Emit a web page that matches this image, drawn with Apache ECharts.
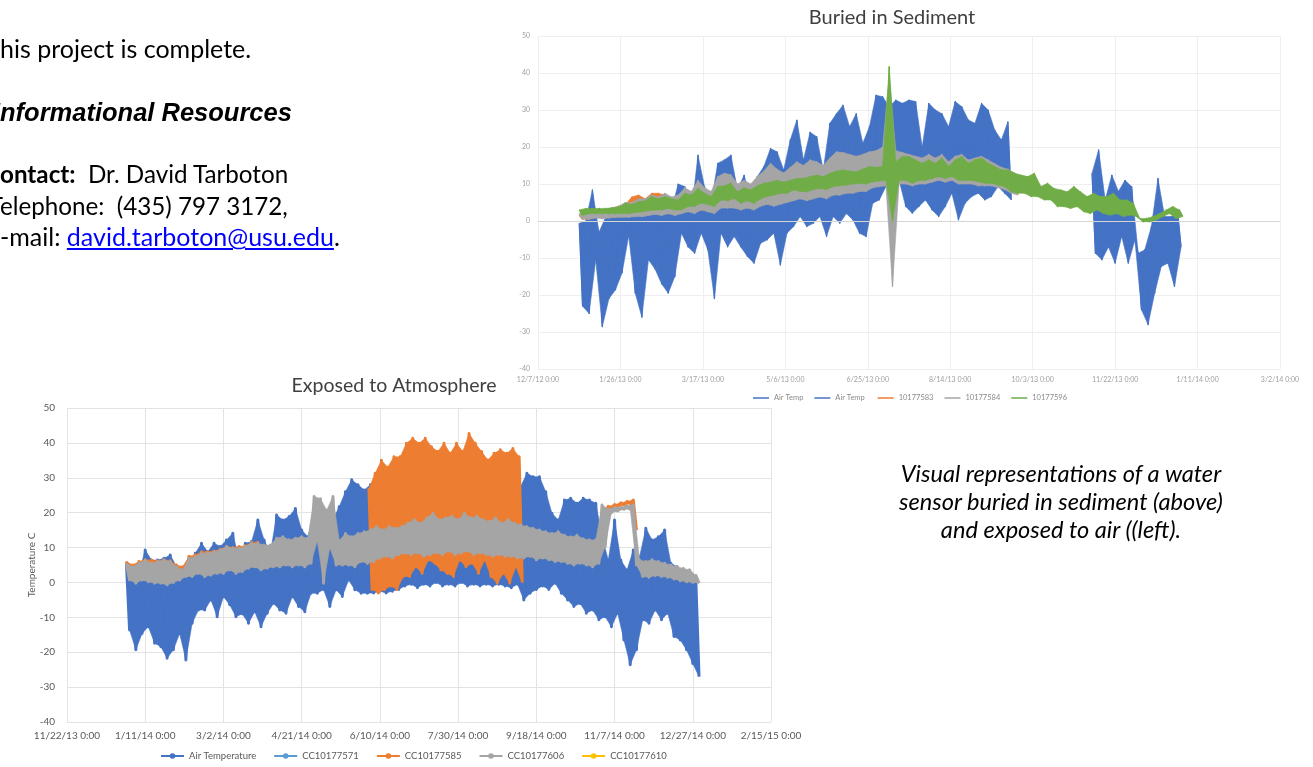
<!DOCTYPE html>
<html>
<head>
<meta charset="utf-8">
<script src="https://cdn.jsdelivr.net/npm/echarts@6/dist/echarts.min.js"></script>
<style>
  html, body { margin: 0; padding: 0; background: #fff; }
  #page { position: relative; width: 1313px; height: 767px; overflow: hidden; background: #fff; }
  #chart { position: absolute; left: 0; top: 0; width: 1313px; height: 767px; }
  .t { position: absolute; white-space: nowrap; font-family: 'Lato', sans-serif; font-size: 25px; line-height: 25px; color: #000; z-index: 2; }
  .t.s { font-size: 24.2px; line-height: 24.2px; }
  .h { font-family: 'Liberation Sans', Arial, sans-serif; font-weight: bold; font-style: italic; font-size: 25.5px; line-height: 25.5px; }
  .t a { color: #0000ff; text-decoration: underline; }
  .cap { position: absolute; left: 861px; top: 459px; width: 400px; text-align: center; font-family: 'Lato', sans-serif; font-style: italic; font-size: 23.6px; line-height: 28px; color: #000; z-index: 2; }
</style>
</head>
<body>
<div id="page">
  <div id="chart"></div>
  <div class="t" style="top:36px"><span class="cut">T</span>his project is complete.</div>
  <div class="t h" style="top:100px"><span class="cut">I</span>nformational Resources</div>
  <div class="t s" style="top:161.5px"><b><span class="cut">C</span>ontact:</b>&nbsp; Dr. David Tarboton</div>
  <div class="t s" style="top:193.5px"><span class="cut">T</span>elephone:&nbsp; (435) 797 3172,</div>
  <div class="t" style="top:224px"><span class="cut">E</span>-mail: <a>david.tarboton@usu.edu</a>.</div>
  <div class="cap">Visual representations of a water<br>sensor buried in sediment (above)<br>and exposed to air ((left).</div>
</div>
<script>
// days between two samples pairs (high at d, low at d + STEP/2)
const STEP = 4;

// ---- Buried in Sediment (days since 12/7/12) ----
const sedTicks = ['12/7/12 0:00', '1/26/13 0:00', '3/17/13 0:00', '5/6/13 0:00', '6/25/13 0:00',
    '8/14/13 0:00', '10/3/13 0:00', '11/22/13 0:00', '1/11/14 0:00', '3/2/14 0:00'];

const sedAir1Start = 25;
const sedAir1Hi = [-0.6, 0, 8.4, -3, 1, 2, 2.5, 1, 4, 4.8, 1, 4, 5, 4, 3, 10, 9.3, 2, 17.8, 9.3,
    4.8, 15.6, 16.5, 17.8, 8.4, 12.4, 5.7, 12, 14.7, 19.6, 18.7, 13.8, 21.9, 27.3, 16.5, 24, 22.8, 13.8, 26.4, 29,
    31.3, 25.5, 29, 21, 25.5, 34, 33.6, 30.9, 32.7, 31.8, 32.7, 32.3, 20, 31.8, 30, 29, 25.5, 32.3, 30.9, 27.3,
    26.4, 31.8, 30, 24.6, 21.9, 26.8];
const sedAir1Lo = [-23, -25, -10.5, -28.6, -21, -18.6, -14, -4, -19.5, -26, -10.5, -13, -17, -19.5, -15, -3.3, -7, -8.7, -3.3, -7.8,
    -21, -3.3, -7, -4.2, -7, -9.6, -11.4, -6, -5.1, -3.3, -11.9, -3.3, -1.5, 1.2, -1.5, -0.6, 1.2, -4.2, 1.2, -0.6,
    2, 0.3, -3.3, -4.2, 4.8, 5.7, 9.3, 7.5, 11, 3.9, 2.1, 3.9, 5.7, 3, 1.2, 3.9, 7.5, 0.3, 4.8, 6.6,
    7.5, 5.7, 6.6, 9.3, 7.5, 5.7];

const sedAir2Start = 336;
const sedAir2Hi = [12.9, 19.2, 5.7, 12.4, 8, 11, 9.3, -8.7, -7.8, -1.5, 11.5, 1.2, 1.2, 2];
const sedAir2Lo = [-8.7, -10.5, -7, -11.4, -4.2, -11.4, -5.1, -24, -28, -19.5, -12.3, -11.4, -17.7, -7];

const sed583Start = 25;
const sed583Hi = [1.5, 2, 2.5, 2, 3, 3.5, 4, 4.5, 6.5, 7, 6, 7.5, 7.5, 7, 6, 6.5, 8, 7, 10, 8, 7, 10, 11, 11, 9];
const sed583Lo = [0.5, 0.5, 1, 1.5, 1, 1, 1.5, 1.5, 2, 2, 2, 2, 2.5, 2, 2, 2.5, 3, 2.5, 3, 3, 2.5, 4, 4, 4, 3.5];

const sed584Start = 25;
const sed584Hi = [2, 2.5, 3, 2.8, 3.2, 3.5, 4, 5, 5, 6,
    6, 7, 6.5, 7.5, 6.5, 7, 9, 8, 11, 9,
    8, 12, 12.9, 12.5, 10, 11, 10, 12, 13.5, 15.6,
    14, 13, 14.5, 16, 15, 16.5, 16, 15, 17, 18.7,
    18.5, 18, 17.5, 18, 18.7, 19, 20, 39, 19, 18.5,
    18, 17.5, 17, 18, 17, 18, 16, 17.5, 18, 16.5,
    17, 17.5, 16.5, 15.5, 14.5, 14, 13];
const sed584Lo = [0.5, 0.5, 0.8, 0.6, 0.8, 1, 1, 1, 1.2, 1.2,
    1.5, 1.8, 1.5, 2, 1.5, 2, 2.5, 2, 3, 2.5,
    2, 3.5, 3.5, 3.5, 3, 3.5, 3, 4, 4.5, 4,
    4.5, 5, 5.5, 6, 5.5, 6, 6.5, 6, 7, 7,
    7.5, 7.5, 8, 8, 9, 9.3, 9.5, -17.7, 10, 10,
    9.5, 10, 10, 10.5, 11, 10.5, 11, 10, 10, 10,
    9.5, 9.5, 9.5, 9, 8.5, 7.5, 7];

const sed596Start = 25;
const sed596Hi = [3, 3.4, 3.4, 3.4, 3.4, 3.6, 3.8, 4.8, 4.5, 5.2,
    5.5, 6.6, 6, 6.6, 6, 5.7, 7.5, 7, 8.8, 7.5,
    6.6, 9.3, 9.5, 10.2, 7.9, 9, 8.4, 9.5, 10.2, 10.5,
    11, 10.5, 11, 11.5, 11.5, 12, 12.4, 12, 12.9, 13.5,
    13.8, 13.5, 13.3, 14, 14.7, 14.5, 14.7, 41.7, 16, 17.4,
    17.4, 16.5, 15.6, 16.5, 15.6, 17, 14.7, 16.5, 17.4, 15.6,
    16.5, 17, 15.6, 14.7, 13.8, 13.8, 12.9, 12.4, 12, 12.9,
    9.3, 10.2, 8.8, 8.4, 7.9, 9.3, 7.9, 6.6, 7.5, 6.6,
    6.6, 7.5, 5.7, 5.7, 4.8, 0.7, 0.7, 1.2, 2, 3,
    3.9, 3];
const sed596Lo = [1.5, 2, 2, 2, 2, 2, 2, 2, 2.3, 2.5,
    2.8, 3, 3, 3.4, 3, 3, 3.9, 4, 4.8, 4.5,
    3.9, 5.7, 5.5, 6.1, 4.8, 5.5, 4.8, 6, 6.6, 7,
    7.5, 7.5, 8.4, 8, 7.9, 8.5, 8.8, 8.5, 9.3, 9.5,
    9.7, 10, 10.2, 10, 10.6, 10.8, 11, 0, 11, 11,
    10.2, 11, 11, 11.5, 12, 11.5, 12, 11, 11, 11,
    10.6, 10.2, 10.2, 9.7, 9.3, 7.9, 7.5, 7.5, 6.6, 6.6,
    5.7, 5.7, 3.9, 3.9, 3.4, 3.9, 2.5, 2, 3, 2,
    1.6, 2, 1.2, 1.6, 1.2, -0.2, -0.2, 0.3, 1.2, 2,
    0.7, 1.2];

// ---- Exposed to Atmosphere (days since 11/22/13) ----
const atmTicks = ['11/22/13 0:00', '1/11/14 0:00', '3/2/14 0:00', '4/21/14 0:00', '6/10/14 0:00',
    '7/30/14 0:00', '9/18/14 0:00', '11/7/14 0:00', '12/27/14 0:00', '2/15/15 0:00'];

const atmAirStart = 38;
const atmAirHi = [5.5, 4.5, 2.6, 9.3, 6.4, 6.4, 6.9, 7.9, 4.5, 1.7,
    5.5, 8.4, 11.2, 8.8, 11.2, 10.3, 12.2, 14.1, 6.4, 11.2,
    11.7, 17.9, 12.2, 8.4, 19.3, 17.9, 18.9, 21.2, 15, 13.1,
    20, 12, 10.3, 18, 21.7, 26, 29.4, 28, 26.5, 28,
    29, 30, 28, 30, 29, 30, 28, 30, 29, 28,
    30, 29, 28, 30, 29, 30, 28, 29, 28, 29,
    28, 29, 30, 27.5, 31.3, 30.3, 30.3, 26, 19.8, 17.9,
    23.6, 24.1, 22.7, 24.1, 23.6, 22.7, 13.1, 6.4, 17.9, 6.4,
    3.6, 9.3, 7.4, 15.5, 12.2, 13.1, 15, 5.5, 4.5, 2.6,
    0.7, -0.2];
const atmAirLo = [-13.6, -19.3, -14.6, -12.7, -17.4, -18.4, -21.7, -19.3, -14.6, -22.2,
    -11.7, -7.9, -7.9, -5, -9.8, -4.1, -6.4, -9.8, -9, -11.7,
    -8.4, -12.7, -8.8, -6, -7.9, -8.8, -4.1, -6.9, -8.4, -3.1,
    -3.1, -2, -6.9, -2.1, -4, 0.7, -2.1, -3.1, -3.1, -3,
    -2.5, -3, -2.5, -2, -1, -0.5, -1.5, -0.5, -1, 0,
    -1, -0.5, -1, 0, -1, -0.5, -1, -0.5, -1, -0.5,
    -1, -1.5, -0.5, -5, -3.1, -2, -1, -2, -0.2, -3.1,
    -5, -6.9, -6, -8.8, -7.9, -10.7, -9.8, -12.7, -8.8, -16.5,
    -23.6, -19.3, -10.7, -11.7, -7.9, -10.7, -8.8, -15.5, -16.5, -19.3,
    -23.2, -27];

const atm585aStart = 38;
const atm585aHi = [6, 5, 6, 6.5, 6.4, 6.2, 6.5, 6.2, 5, 4.5, 7.5, 7.9, 8.8, 8.8, 9, 9.5, 10.3, 10, 10.3, 10.5, 11.5, 11.5];
const atm585aLo = [1, 0.5, 1, 0.5, 0.5, 0.5, 0, 0.5, 1, 2, 2, 3, 2, 2.5, 3, 3, 4, 3, 3.5, 4.5, 5, 4];
const atm585bStart = 193;
const atm585bHi = [27, 31.3, 35, 33, 36, 36, 39.9, 41.3, 39.9, 41.3, 38.9, 37.5, 39.9, 37, 39.9, 37.5, 42.7, 39.9, 37.5, 35.1,
    37, 38, 37, 38.4, 36];
const atm585bLo = [-2, -3, -2, -1, -2, 1.7, 1.7, 4.5, 2.6, 6.4, 5.5, 3.6, 2.6, 1.7, 6.4, 4.5, 5.5, 2.6, 6.4, 1.7,
    -0.2, 2.6, -0.2, 4.5, 0];
const atm585cStart = 342;
const atm585cHi = [20.3, 21.8, 22.3, 22.8, 23.2, 23.6];
const atm585cLo = [20, 21.2, 21.8, 22.2, 22.6, 15];

const atm606Start = 38;
const atm606Hi = [5.5, 4.5, 5.5, 6.4, 5.5, 6, 6.4, 6, 4.5, 3.6,
    6.9, 7.4, 8.4, 8.4, 8.8, 9.3, 10.3, 9.8, 9.8, 10.3,
    11.2, 11.2, 10.7, 10.7, 12.7, 13.1, 12.2, 12.7, 13.1, 12.7,
    24.6, 24, 20.7, 24.6, 12, 14, 13.1, 14, 14.5, 15,
    16, 15, 16, 15.5, 16, 17, 18, 17, 18.5, 19.8,
    18, 18.5, 19, 18, 19.8, 18.5, 19, 18, 17.5, 18.5,
    17, 18, 17, 16.5, 16, 15.5, 15, 14.5, 14, 14.5,
    13.5, 13, 13.5, 12.5, 12.2, 12.2, 22.2, 21, 21.5, 21.5,
    22, 22.2, 6.4, 6, 6.5, 6, 5.5, 5, 4.5, 4,
    3.6, 2];
const atm606Lo = [0.7, -0.2, 0.7, 0.2, -0.2, -0.2, -0.7, 0, 0.7, 1.7,
    1.7, 2.6, 1.7, 2.1, 2.6, 2.6, 3.6, 2.6, 3.1, 4.1,
    4.5, 3.6, 4.1, 4.5, 4.5, 5, 4.5, 5, 4.5, 5.5,
    12, -0.2, 10, 5, 5, 5, 4.5, 6, 5.5, 6,
    7, 7.5, 7, 8, 8.4, 8, 8.5, 7.5, 8, 8.5,
    8, 9, 8, 8.5, 9, 8, 8.5, 8, 7.5, 8,
    7.5, 7.5, 7, 7, 7.5, 6.5, 7, 6.5, 6, 6,
    5.5, 5, 5.5, 5, 4.5, 5.5, 10.3, 20, 20.5, 21,
    21, 5, 1.7, 1.5, 2, 1.7, 1.5, 1, 0.5, 0.2,
    0, -0.2];

// turn high/low envelope readings into a zigzag the line can draw
function band(start, hi, lo) {
    let out = [];
    hi.forEach((h, i) => {
        out.push([start + STEP * i, h]);
        out.push([start + STEP * i + STEP / 2, lo[i]]);
    });
    return out;
}

// one row per gap between two readings: [day, hi, lo, next hi, next lo]
function bandRows(start, hi, lo) {
    let rows = [];
    for (let i = 0; i < hi.length - 1; i++) {
        rows.push([start + STEP * i, hi[i], lo[i], hi[i + 1], lo[i + 1]]);
    }
    return rows;
}

const BLUE = '#4472c4', ORANGE = '#ed7d31', GREY = '#a5a5a5', GREEN = '#70ad47', LBLUE = '#5b9bd5', YELLOW = '#ffc000';

// each band gets its own z so later series always sit on top of earlier ones
let zNext = 3;

// the zigzag line (gives the legend icon) plus the filled envelope under it
let bandSeries = (name, color, start, hi, lo, axis, width, symbol, extra) => {
    let z = zNext++;
    return [
        Object.assign({
            name: name, type: 'line', xAxisIndex: axis, yAxisIndex: axis, z: z,
            data: band(start, hi, lo), symbol: symbol, symbolSize: 5, showSymbol: false, silent: true,
            lineStyle: { color: color, width: width, join: 'round' },
            itemStyle: { color: color }
        }, extra || {}),
        {
            name: name, type: 'custom', xAxisIndex: axis, yAxisIndex: axis, z: z, silent: true,
            data: bandRows(start, hi, lo),
            renderItem: (params, api) => {
                let d = api.value(0);
                let pts = [
                    api.coord([d, api.value(1)]),
                    api.coord([d + STEP, api.value(3)]),
                    api.coord([d + STEP * 1.5, api.value(4)]),
                    api.coord([d + STEP / 2, api.value(2)])
                ];
                return { type: 'polygon', shape: { points: pts }, style: { fill: color, stroke: color, lineWidth: 0.6 } };
            }
        }
    ];
};

let atmEmpty = (name, color) => ({
    name: name, type: 'line', xAxisIndex: 1, yAxisIndex: 1, data: [], z: zNext++,
    symbol: 'circle', symbolSize: 5, showSymbol: false,
    lineStyle: { color: color, width: 3 }, itemStyle: { color: color }
});

let option = {
    animation: false,
    textStyle: { fontFamily: 'Lato' },
    title: [
        {
            text: 'Buried in Sediment', left: 892, top: 8, textAlign: 'center', padding: 0,
            textStyle: { fontFamily: 'Lato', fontSize: 20, fontWeight: 'normal', color: '#404040' }
        },
        {
            text: 'Exposed to Atmosphere', left: 394, top: 376, textAlign: 'center', padding: 0,
            textStyle: { fontFamily: 'Lato', fontSize: 19.5, fontWeight: 'normal', color: '#404040' }
        }
    ],
    legend: [
        {
            data: ['Air Temp', 'Air Temp ', '10177583', '10177584', '10177596'],
            icon: 'rect', left: 753, top: 394, padding: 0, itemGap: 11, itemWidth: 16, itemHeight: 1.5,
            textStyle: { fontSize: 7.5, color: '#8a8a8a', fontFamily: 'Lato' }
        },
        {
            data: ['Air Temperature', 'CC10177571', 'CC10177585', 'CC10177606', 'CC10177610'],
            left: 160, top: 751, padding: 0, itemGap: 17, itemWidth: 23, itemHeight: 7,
            textStyle: { fontSize: 9.5, color: '#595959', fontFamily: 'Lato' }
        }
    ],
    grid: [
        { left: 538, top: 36, width: 742, height: 333 },
        { left: 67, top: 408, width: 704, height: 314 }
    ],
    xAxis: [
        {
            type: 'value', gridIndex: 0, min: 0, max: 450, interval: 50,
            axisLine: { show: false }, axisTick: { show: false },
            axisLabel: { fontSize: 7, color: '#a0a0a0', margin: 7, showMinLabel: true, showMaxLabel: true,
                formatter: v => sedTicks[Math.round(v / 50)] },
            splitLine: { lineStyle: { color: '#efefef' } }
        },
        {
            type: 'value', gridIndex: 1, min: 0, max: 450, interval: 50,
            axisLine: { show: false }, axisTick: { show: false },
            axisLabel: { fontSize: 10, color: '#595959', margin: 9, showMinLabel: true, showMaxLabel: true,
                formatter: v => atmTicks[Math.round(v / 50)] },
            splitLine: { lineStyle: { color: '#e3e3e3' } }
        }
    ],
    yAxis: [
        {
            type: 'value', gridIndex: 0, min: -40, max: 50, interval: 10,
            axisLine: { show: false }, axisTick: { show: false },
            axisLabel: { fontSize: 7, color: '#a0a0a0', margin: 8 },
            splitLine: { lineStyle: { color: '#efefef' } }
        },
        {
            type: 'value', gridIndex: 1, min: -40, max: 50, interval: 10,
            name: 'Temperature C', nameLocation: 'middle', nameGap: 30, nameRotate: 90, nameMoveOverlap: false,
            nameTextStyle: { fontSize: 10, color: '#595959', fontFamily: 'Lato' },
            axisLine: { show: false }, axisTick: { show: false },
            axisLabel: { fontSize: 10, color: '#595959', margin: 12 },
            splitLine: { lineStyle: { color: '#e3e3e3' } }
        }
    ],
    series: [].concat(
        bandSeries('Air Temp', BLUE, sedAir1Start, sedAir1Hi, sedAir1Lo, 0, 1.2, 'none', {
            markLine: { silent: true, symbol: 'none', label: { show: false },
                lineStyle: { color: '#d6d6d6', width: 1, type: 'solid' }, data: [{ yAxis: 0 }] }
        }),
        bandSeries('Air Temp ', BLUE, sedAir2Start, sedAir2Hi, sedAir2Lo, 0, 1.2, 'none'),
        bandSeries('10177583', ORANGE, sed583Start, sed583Hi, sed583Lo, 0, 1.2, 'none'),
        bandSeries('10177584', GREY, sed584Start, sed584Hi, sed584Lo, 0, 1.2, 'none'),
        bandSeries('10177596', GREEN, sed596Start, sed596Hi, sed596Lo, 0, 1.2, 'none'),

        bandSeries('Air Temperature', BLUE, atmAirStart, atmAirHi, atmAirLo, 1, 3, 'circle'),
        [atmEmpty('CC10177571', LBLUE)],
        bandSeries('CC10177585', ORANGE, atm585aStart, atm585aHi, atm585aLo, 1, 3, 'circle'),
        bandSeries('CC10177585', ORANGE, atm585bStart, atm585bHi, atm585bLo, 1, 3, 'circle'),
        bandSeries('CC10177585', ORANGE, atm585cStart, atm585cHi, atm585cLo, 1, 3, 'circle'),
        bandSeries('CC10177606', GREY, atm606Start, atm606Hi, atm606Lo, 1, 3, 'circle'),
        [atmEmpty('CC10177610', YELLOW)]
    )
};

let mychart = echarts.init(document.getElementById('chart'));
mychart.setOption(option);

// first letters are cut off by the page edge
document.querySelectorAll('.cut').forEach(s => {
    s.parentElement.closest('.t').style.left = (-s.getBoundingClientRect().width) + 'px';
});
</script>
</body>
</html>
